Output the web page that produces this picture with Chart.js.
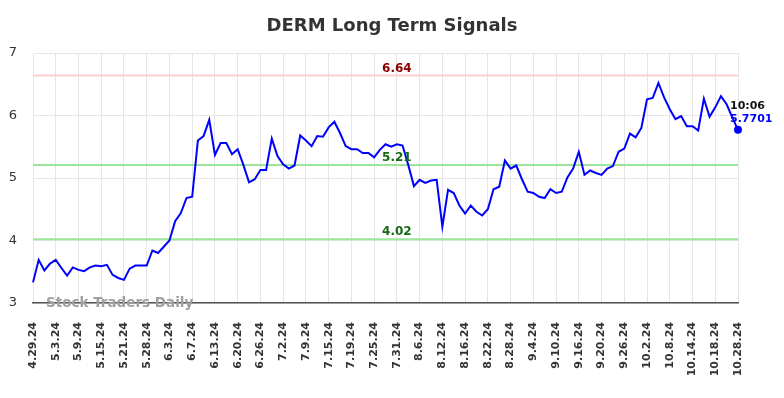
<!DOCTYPE html>
<html>
<head>
<meta charset="utf-8">
<script src="https://cdn.jsdelivr.net/npm/chart.js@4.4.1/dist/chart.umd.min.js"></script>
<style>
  html, body { margin: 0; padding: 0; background: #fff; }
  #wrap { width: 784px; height: 398px; }
</style>
</head>
<body>
<div id="wrap"><canvas id="signals" width="784" height="398"></canvas></div>
<script>
// trading days shown on the x axis (every 4th one gets a label)
const dates = [
  '4.29.24','4.30.24','5.1.24','5.2.24','5.3.24','5.6.24','5.7.24','5.8.24','5.9.24',
  '5.10.24','5.13.24','5.14.24','5.15.24','5.16.24','5.17.24','5.20.24','5.21.24',
  '5.22.24','5.23.24','5.24.24','5.28.24','5.29.24','5.30.24','5.31.24','6.3.24',
  '6.4.24','6.5.24','6.6.24','6.7.24','6.10.24','6.11.24','6.12.24','6.13.24',
  '6.14.24','6.17.24','6.18.24','6.20.24','6.21.24','6.24.24','6.25.24','6.26.24',
  '6.27.24','6.28.24','7.1.24','7.2.24','7.3.24','7.5.24','7.8.24','7.9.24',
  '7.10.24','7.11.24','7.12.24','7.15.24','7.16.24','7.17.24','7.18.24','7.19.24',
  '7.22.24','7.23.24','7.24.24','7.25.24','7.26.24','7.29.24','7.30.24','7.31.24',
  '8.1.24','8.2.24','8.5.24','8.6.24','8.7.24','8.8.24','8.9.24','8.12.24',
  '8.13.24','8.14.24','8.15.24','8.16.24','8.19.24','8.20.24','8.21.24','8.22.24',
  '8.23.24','8.26.24','8.27.24','8.28.24','8.29.24','8.30.24','9.3.24','9.4.24',
  '9.5.24','9.6.24','9.9.24','9.10.24','9.11.24','9.12.24','9.13.24','9.16.24',
  '9.17.24','9.18.24','9.19.24','9.20.24','9.23.24','9.24.24','9.25.24','9.26.24',
  '9.27.24','9.30.24','10.1.24','10.2.24','10.3.24','10.4.24','10.7.24','10.8.24',
  '10.9.24','10.10.24','10.11.24','10.14.24','10.15.24','10.16.24','10.17.24','10.18.24',
  '10.21.24','10.22.24','10.23.24','10.28.24'
];

const prices = [
  3.33, 3.69, 3.52, 3.63, 3.69, 3.56, 3.44, 3.57, 3.53, 3.51,
  3.57, 3.60, 3.59, 3.61, 3.45, 3.40, 3.37, 3.55, 3.60, 3.60,
  3.60, 3.84, 3.80, 3.90, 4.00, 4.31, 4.44, 4.68, 4.70, 5.60,
  5.67, 5.93, 5.37, 5.56, 5.56, 5.38, 5.46, 5.21, 4.93, 4.98,
  5.13, 5.13, 5.63, 5.35, 5.22, 5.15, 5.20, 5.68, 5.60, 5.51,
  5.67, 5.66, 5.81, 5.90, 5.72, 5.51, 5.46, 5.46, 5.40, 5.40,
  5.33, 5.45, 5.54, 5.50, 5.54, 5.52, 5.21, 4.87, 4.97, 4.92,
  4.96, 4.97, 4.22, 4.81, 4.76, 4.56, 4.43, 4.56, 4.46, 4.40,
  4.50, 4.82, 4.86, 5.28, 5.15, 5.20, 4.98, 4.78, 4.76, 4.70,
  4.68, 4.82, 4.76, 4.78, 5.01, 5.15, 5.42, 5.05, 5.12, 5.08,
  5.05, 5.15, 5.19, 5.42, 5.47, 5.71, 5.65, 5.80, 6.26, 6.28,
  6.52, 6.29, 6.10, 5.94, 5.99, 5.83, 5.83, 5.76, 6.27, 5.98,
  6.13, 6.31, 6.18, 5.97, 5.7701
];

// signal levels
const levelValues = [6.64, 5.21, 4.02];
const levelLine = ['#ffcfcf', '#9be69b', '#9be69b'];
const levelText = ['#8b0000', '#146b14', '#146b14'];
const levelLabelAt = 64; // index of the date the level labels sit over

const yTicks = [3, 4, 5, 6, 7];
const lastTime = '10:06';

const levelsPlugin = {
  id: 'levels',
  beforeDatasetsDraw(chart) {
    const { ctx, chartArea, scales } = chart;
    ctx.save();
    ctx.lineWidth = 2;
    levelValues.forEach((v, i) => {
      const y = scales.y.getPixelForValue(v);
      ctx.strokeStyle = levelLine[i];
      ctx.beginPath();
      ctx.moveTo(chartArea.left, y);
      ctx.lineTo(chartArea.right, y);
      ctx.stroke();
    });
    ctx.restore();
  },
  afterDatasetsDraw(chart) {
    const { ctx, chartArea, scales } = chart;
    ctx.save();
    // level labels
    ctx.font = 'bold 12px "DejaVu Sans"';
    ctx.textAlign = 'center';
    ctx.textBaseline = 'bottom';
    const lx = scales.x.getPixelForValue(levelLabelAt);
    levelValues.forEach((v, i) => {
      const y = scales.y.getPixelForValue(v);
      ctx.fillStyle = levelText[i];
      ctx.fillText(v.toFixed(2), lx, y - 1);
    });

    // watermark
    ctx.font = 'bold 13.5px "DejaVu Sans"';
    ctx.textAlign = 'left';
    ctx.textBaseline = 'middle';
    ctx.fillStyle = '#a0a0a0';
    ctx.fillText('Stock Traders Daily', chartArea.left + 13, chartArea.bottom);

    // last value annotation
    const last = prices.length - 1;
    const px = scales.x.getPixelForValue(last);
    const py = scales.y.getPixelForValue(prices[last]);
    ctx.fillStyle = '#0000ff';
    ctx.beginPath();
    ctx.arc(px, py, 4, 0, Math.PI * 2);
    ctx.fill();
    ctx.font = 'bold 11px "DejaVu Sans"';
    ctx.textAlign = 'left';
    ctx.fillStyle = '#111';
    ctx.fillText(lastTime, px - 8, py - 24);
    ctx.fillStyle = '#0000ff';
    ctx.fillText(String(prices[last]), px - 8, py - 11);

    // title
    ctx.font = 'bold 18px "DejaVu Sans"';
    ctx.textAlign = 'center';
    ctx.fillStyle = '#333';
    ctx.fillText('DERM Long Term Signals', chart.width / 2, 26);
    ctx.restore();
  }
};

new Chart(document.getElementById('signals'), {
  type: 'line',
  data: {
    labels: dates,
    datasets: [{
      data: prices,
      borderColor: '#0000ff',
      borderWidth: 2,
      pointRadius: 0,
      tension: 0,
      fill: false
    }]
  },
  options: {
    responsive: false,
    animation: false,
    layout: { padding: { top: 53, right: 46, left: 0, bottom: 0 } },
    plugins: {
      legend: { display: false },
      title: { display: false },
      tooltip: { enabled: false }
    },
    scales: {
      x: {
        offset: false,
        grid: { color: '#e6e6e6', drawTicks: false },
        border: { display: true, color: '#555', width: 1.5 },
        ticks: {
          autoSkip: false,
          minRotation: 90,
          maxRotation: 90,
          padding: 19,
          color: '#333',
          font: { family: 'DejaVu Sans', size: 11, weight: 'bold' },
          callback: (v, i) => (i % 4 === 0 ? dates[i] : null)
        },
        afterFit: s => { s.height = 95; }
      },
      y: {
        min: 3,
        max: 7,
        grid: { color: '#e6e6e6', drawTicks: false },
        border: { display: false },
        afterBuildTicks: s => { s.ticks = yTicks.map(v => ({ value: v })); },
        ticks: {
          padding: 16,
          color: '#333',
          font: { family: 'DejaVu Sans', size: 13 }
        },
        afterFit: s => { s.width = 33; }
      }
    }
  },
  plugins: [levelsPlugin]
});
</script>
</body>
</html>
